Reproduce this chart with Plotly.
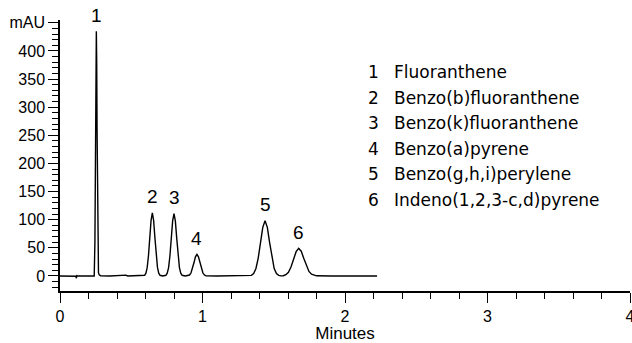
import plotly.graph_objects as go

# Chromatogram trace (minutes, mAU)
time_min = [0.0, 0.05, 0.10, 0.112, 0.115, 0.118, 0.125, 0.20, 0.24,
            0.245, 0.2475, 0.25, 0.2525, 0.255, 0.2575, 0.26, 0.2625, 0.265, 0.2675, 0.27, 0.275, 0.285,
            0.35, 0.45, 0.463, 0.475, 0.55, 0.594,
            0.603, 0.612, 0.621, 0.630, 0.639, 0.648, 0.657, 0.666, 0.675, 0.684, 0.693, 0.702,
            0.72, 0.743,
            0.7525, 0.762, 0.7715, 0.781, 0.7905, 0.800, 0.8095, 0.819, 0.8285, 0.838, 0.8475, 0.857,
            0.88, 0.898,
            0.9085, 0.919, 0.9295, 0.940, 0.9505, 0.961, 0.9715, 0.982, 0.9925, 1.003, 1.0135, 1.024,
            1.10, 1.20, 1.30, 1.343,
            1.359, 1.375, 1.391, 1.407, 1.423, 1.439, 1.455, 1.471, 1.487, 1.503, 1.519, 1.535,
            1.55, 1.567,
            1.585, 1.603, 1.621, 1.639, 1.657, 1.675, 1.693, 1.711, 1.729, 1.747, 1.765, 1.783, 1.80,
            1.90, 2.00, 2.10, 2.225]
signal_mau = [0.0, 0.3, 0.0, -0.5, -4.0, 0.5, 0.0, 0.2, 0.0,
              59, 141, 264, 384, 435, 384, 264, 141, 59, 19, 6, 2, 0.5,
              0.0, 0.2, 1.5, 0.0, 0.0, 1.2,
              4.9, 15.2, 36.4, 67.9, 98.8, 112, 98.8, 67.9, 36.4, 15.2, 4.9, 1.2,
              0.0, 1.2,
              4.9, 15.0, 36.0, 67.3, 98.0, 111, 98.0, 67.3, 36.0, 15.0, 4.9, 1.2,
              0.0, 0.4,
              1.7, 5.2, 12.5, 23.4, 34.0, 38.5, 34.0, 23.4, 12.5, 5.2, 1.7, 0.4,
              0.0, 0.2, 0.0, 1.1,
              4.3, 13.3, 31.8, 59.4, 86.5, 98, 86.5, 59.4, 31.8, 13.3, 4.3, 1.1,
              0.2, 0.5,
              2.2, 6.6, 15.9, 29.7, 43.2, 49, 44, 31, 17.5, 8, 3.2, 1.2, 0.3,
              0.0, 0.0, 0.0, 0.0]

peak_numbers = ["1", "2", "3", "4", "5", "6"]
peak_times = [0.255, 0.648, 0.800, 0.961, 1.439, 1.675]
peak_heights = [435, 112, 111, 38.5, 98, 49]
compound_names = ["Fluoranthene", "Benzo(b)fluoranthene", "Benzo(k)fluoranthene",
                  "Benzo(a)pyrene", "Benzo(g,h,i)perylene", "Indeno(1,2,3-c,d)pyrene"]

y_tickvals = [0, 50, 100, 150, 200, 250, 300, 350, 400, 450]
y_ticktext = ["0", "50", "100", "150", "200", "250", "300", "350", "400", "mAU"]
x_tickvals = [0, 1, 2, 3, 4]
x_ticktext = ["0", "1", "2", "3", "4"]

FONT = "Liberation Sans, Arial, sans-serif"
LEGFONT = "DejaVu Sans, Liberation Sans, sans-serif"

fig = go.Figure()
fig.add_trace(go.Scatter(x=time_min, y=signal_mau, mode="lines",
                         line=dict(color="black", width=1.4), showlegend=False,
                         hoverinfo="skip"))

for num, t, h in zip(peak_numbers, peak_times, peak_heights):
    fig.add_annotation(x=t, y=h, xref="x", yref="y", text=num, showarrow=False,
                       yanchor="middle", yshift=16,
                       font=dict(family=FONT, size=19, color="black"))

for i, (num, name) in enumerate(zip(peak_numbers, compound_names)):
    ypos = 0.808 - i * 0.0945
    fig.add_annotation(x=2.197, y=ypos, xref="x", yref="paper", text=num,
                       showarrow=False, xanchor="center", yanchor="middle",
                       font=dict(family=LEGFONT, size=17, color="black"))
    fig.add_annotation(x=2.33, y=ypos, xref="x", yref="paper", text=name,
                       showarrow=False, xanchor="left", yanchor="middle",
                       font=dict(family=LEGFONT, size=17, color="black"))

fig.update_layout(
    width=632, height=343,
    margin=dict(l=60, r=2, t=20, b=52, autoexpand=False),
    plot_bgcolor="white", paper_bgcolor="white",
    font=dict(family=FONT, size=16, color="black"),
    xaxis=dict(range=[0, 4], tickvals=x_tickvals, ticktext=x_ticktext,
               automargin=False,
               showgrid=False, zeroline=False, showline=True, linecolor="black", linewidth=1.5,
               ticks="outside", ticklen=10, tickwidth=1.2, tickcolor="black",
               ticklabeloverflow="allow",
               minor=dict(dtick=0.2, ticks="outside", ticklen=6, tickwidth=1.2, tickcolor="black"),
               title=dict(text="Minutes", font=dict(size=17), standoff=6),
               tickfont=dict(size=16)),
    yaxis=dict(range=[-26.7, 455], tickvals=y_tickvals, ticktext=y_ticktext,
               automargin=False,
               showgrid=False, zeroline=False, showline=True, linecolor="black", linewidth=1.5,
               ticks="outside", ticklen=10, tickwidth=1.2, tickcolor="black",
               minor=dict(tickvals=list(range(-20, 451, 10)), ticks="outside", ticklen=6,
                          tickwidth=1.2, tickcolor="black"),
               tickfont=dict(size=16)),
)

fig.write_html("out.html")
